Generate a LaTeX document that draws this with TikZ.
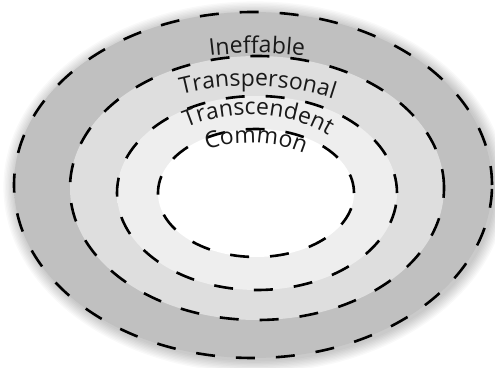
\documentclass[tikz,border=0pt]{standalone}
\usepackage{fontspec}
\setmainfont{Open Sans}
\usetikzlibrary{decorations.text}
\definecolor{oneIn}{RGB}{192,192,192}
\definecolor{oneOut}{RGB}{150,150,150}
\definecolor{twoIn}{RGB}{222,222,222}
\definecolor{twoOut}{RGB}{180,180,180}
\definecolor{thrIn}{RGB}{238,238,238}
\definecolor{thrOut}{RGB}{200,200,200}
\definecolor{txtcol}{RGB}{25,25,25}
\pgfdeclareradialshading{ringone}{\pgfpoint{-6bp}{8bp}}{color(0bp)=(oneIn); color(32bp)=(oneIn); color(60bp)=(oneOut); color(80bp)=(oneOut)}
\pgfdeclareradialshading{ringtwo}{\pgfpoint{-6bp}{8bp}}{color(0bp)=(twoIn); color(32bp)=(twoIn); color(60bp)=(twoOut); color(80bp)=(twoOut)}
\pgfdeclareradialshading{ringthr}{\pgfpoint{-6bp}{8bp}}{color(0bp)=(thrIn); color(32bp)=(thrIn); color(60bp)=(thrOut); color(80bp)=(thrOut)}
\tikzset{
  dashring/.style={draw=black, line width=2.6pt, dash pattern=on 19pt off 21pt},
  arclabel/.style={decorate, decoration={text along path, text align=center, text color=txtcol}}
}
\begin{document}
\begin{tikzpicture}[x=1pt,y=1pt]
\useasboundingbox (0,0) rectangle (495,367);
\fill[white] (0,0) rectangle (495,367);
% soft halo
\foreach \i in {1,...,9}
  \fill[black,opacity=0.025] (255,180) ellipse[x radius={239+\i*1.4}, y radius={173+\i*1.4}];
% rings
\coordinate (c1) at (253,182);
\coordinate (c2) at (257,179);
\coordinate (c3) at (257,174);
\coordinate (c4) at (256,174);
\path[shading=ringone] (c1) ellipse[x radius=239, y radius=173];
\path[shading=ringtwo] (c2) ellipse[x radius=187, y radius=132];
\path[shading=ringthr] (c3) ellipse[x radius=140, y radius=97];
\fill[white] (c4) ellipse[x radius=98, y radius=64];
\draw[dashring] (c1) ellipse[x radius=239, y radius=173];
\draw[dashring] (c2) ellipse[x radius=187, y radius=132];
\draw[dashring] (c3) ellipse[x radius=140, y radius=97];
\draw[dashring] (c4) ellipse[x radius=98, y radius=64];
% labels
\coordinate (l1) at (257,182);
\coordinate (l2) at (250,181);
\coordinate (l3) at (250,174);
\coordinate (l4) at (250,174);
\path[arclabel, decoration={text={|\fontsize{23}{23}\selectfont|Ineffable}}]
  (l1) ++(140:230 and 132) arc[start angle=140, end angle=40, x radius=230, y radius=132];
\path[arclabel, decoration={text={|\fontsize{23}{23}\selectfont|Transpersonal}}]
  (l2) ++(156:170 and 100) arc[start angle=156, end angle=16, x radius=170, y radius=100];
\path[arclabel, decoration={text={|\fontsize{23}{23}\selectfont|Transcendent}}]
  (l3) ++(164:117 and 78) arc[start angle=164, end angle=4, x radius=117, y radius=78];
\path[arclabel, decoration={text={|\fontsize{23}{23}\selectfont|Common}}]
  (l4) ++(163:88 and 50) arc[start angle=163, end angle=4, x radius=88, y radius=50];
\end{tikzpicture}
\end{document}
